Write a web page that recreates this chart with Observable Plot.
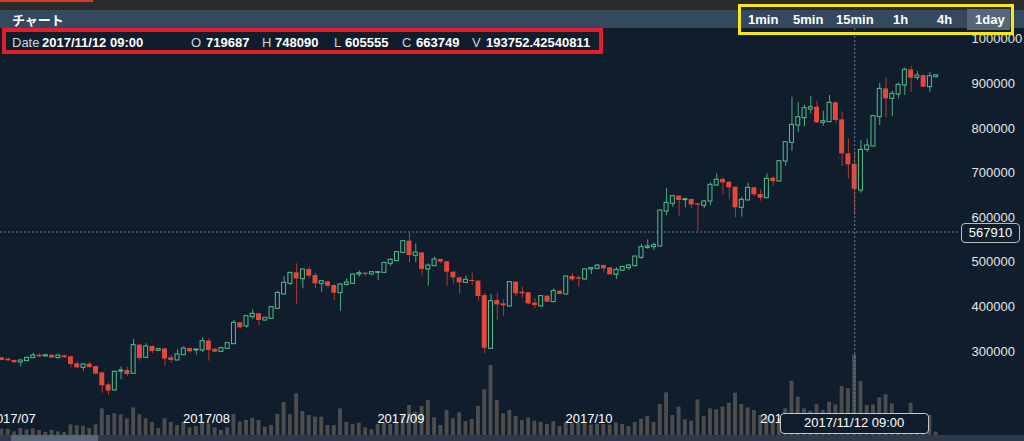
<!DOCTYPE html>
<html><head><meta charset="utf-8">
<script src="https://cdn.jsdelivr.net/npm/d3@7"></script>
<script src="https://cdn.jsdelivr.net/npm/@observablehq/plot@0.6"></script>
<style>
body{margin:0;width:1024px;height:441px;overflow:hidden;position:relative;background:#0f1d2c;font-family:"Liberation Sans",Arial,sans-serif;}
.abs{position:absolute;}
.lbl{position:absolute;top:28px;line-height:29px;font-size:13px;color:#d4d4d4;white-space:nowrap;}
.val{position:absolute;top:28px;line-height:29px;font-size:13px;font-weight:bold;color:#fff;white-space:nowrap;}
.btn{position:absolute;top:10px;line-height:20px;font-size:13px;font-weight:bold;color:#fff;white-space:nowrap;}
</style></head><body>
<div class="abs" style="left:0;top:0;width:1024px;height:10px;background:#2a2a2a"></div>
<div class="abs" style="left:0;top:0;width:93px;height:2px;background:#d93a2c"></div>
<div class="abs" style="left:0;top:10px;width:1024px;height:18px;background:#34495e"></div>
<div class="abs" id="title" style="left:12px;top:10px;line-height:19px;font-size:13px;font-weight:bold;color:#fff;font-family:'Noto Sans CJK JP',sans-serif"></div>
<div class="abs" style="left:0;top:435px;width:1024px;height:6px;background:#2c3b4c"></div>
<div class="abs" style="left:11px;top:435px;width:87px;height:6px;background:#56677a"></div>
<div class="abs" id="vol" style="left:0;top:28px"></div>
<div class="abs" id="main" style="left:0;top:28px"></div>
<div id="info"></div>
<div class="abs" style="left:2px;top:28px;width:601px;height:26px;border:4px solid #e31d2b;box-sizing:border-box"></div>
<div class="abs" id="active" style="top:9px;width:43px;height:21px;background:#566679"></div>
<div id="buttons"></div>
<div class="abs" style="left:738px;top:4px;width:276px;height:31px;border:3.5px solid #f9e51b;box-sizing:border-box"></div>
<div class="abs" id="datebox" style="top:413px;width:149px;height:21px;border:1.5px solid #c9c9c9;border-radius:4px;background:#0f1d2c;box-sizing:border-box;color:#fff;font-size:13px;line-height:18px;text-align:center"></div>
<div class="abs" id="pricebox" style="left:961px;width:59px;height:20px;border:1.5px solid #bdbdbd;border-radius:4px;background:#0f1d2c;box-sizing:border-box;color:#fff;font-size:13px;line-height:17px;text-align:center"></div>
<script>
// ---- data ----
const titleText = "チャート";
const intervals = ["1min","5min","15min","1h","4h","1day"];
const activeInterval = "1day";
const monthLabels = ["2017/07","2017/08","2017/09","2017/10","2017/11"];
const yTicks = [300000,400000,500000,600000,700000,800000,900000,1000000];
const firstDay = "2017-06-29", lastDay = "2017-11-25";
const crossDay = "2017-11-12";
const crossPrice = 567910;

const open = [
 285900,282900,
 279900,275400,278400,285100,291800,288800,291800,285100,290300,288000,272400,263400,271600,266400,252200,225300,212600,255100,257400,250000,314200,285800,311200,301500,306000,285900,279900,291800,306700,302300,302300,
 323200,305200,299300,306000,316400,364300,356100,377000,384500,369500,373300,395700,427800,451700,476400,462200,483900,470400,451700,456200,448000,430800,449400,451700,472600,475600,472600,476400,476400,496500,502500,
 521200,547400,514500,521200,483900,491300,506300,501000,477900,465200,453900,459200,457700,425600,306000,414300,406800,400900,455500,433000,431500,408400,400900,424100,410600,435300,427800,468100,465200,461400,
 483900,485300,492800,487600,471900,480900,486800,491300,510000,532400,534000,535400,613900,631100,648300,639300,640800,631100,626600,636300,672100,685600,679600,668400,622100,638600,667000,652000,643800,688600,681100,
 726000,767800,806700,823100,842500,847800,812700,814200,857500,819400,743100,719687,661000,752100,759600,825300,888900,866500,876200,896300,931500,913500,918700,892600,915100];
const high = [
 287400,285900,
 280600,280600,286600,296300,294800,292500,292500,291800,291000,288800,276900,271600,275400,267100,253700,229800,256600,264900,264900,326900,315700,317200,312700,306000,306700,291000,303700,310500,307500,305200,330700,
 328400,306000,308200,319400,369500,365000,380000,393400,385200,376200,400900,434500,468100,477100,496500,484600,489100,475600,459200,457700,449400,451700,462900,474100,480900,476400,478600,478600,499600,507800,524200,
 548900,566000,541400,522000,496500,511500,507000,502500,478600,466600,468900,475600,458400,430700,427800,430800,415800,456200,456200,444200,432200,418100,424800,424800,440500,436000,468900,475600,469600,484600,
 487600,494300,493500,488300,487600,490600,495000,513700,539900,550400,542900,616900,664700,649000,649800,642300,641600,631800,638600,678100,698300,689300,680400,669200,646000,677400,667700,662400,698300,691600,727400,
 770000,870200,857500,851500,871700,861200,838800,874000,859700,836600,776800,748090,773100,776800,828300,901600,913500,883600,901600,936000,939000,927700,919500,926200,920300];
const low = [
 279100,277600,
 273900,265600,277600,284400,285900,288000,284400,284400,285100,263400,261900,255900,261900,247700,206600,202100,211100,236500,244000,249200,278400,285100,294800,300000,267100,273900,279100,291000,296300,291800,297800,
 278400,297000,298500,305200,315700,350000,352300,371800,357600,368000,372500,394900,427000,448000,404600,440500,462900,440500,433000,440500,414300,389700,446500,450200,466600,468100,471900,459200,475600,490600,501800,
 520500,498800,498800,468900,446500,490600,496500,445700,451700,427800,453200,448000,412800,294800,305200,369500,379200,400100,423300,419600,404600,395700,400100,409900,409900,427000,427000,456900,444200,460700,
 472600,484600,475600,471100,461400,480200,481600,490600,506300,528700,526400,534700,604900,623600,603400,622100,619900,569000,619900,626600,671400,649700,640000,599700,601200,637800,647500,637100,643100,670600,680400,
 715500,749100,790200,804400,832800,811200,805200,813400,810400,714800,687100,605555,655000,746900,758900,806700,823800,826800,866500,873900,881400,907600,891800,881400,912800];
const close = [
 279900,279100,
 274600,279900,285900,291000,288000,291800,285100,291000,285900,270900,263400,270900,264100,249200,223000,211100,254400,257400,248500,314200,284400,311200,300000,305200,282900,279900,293300,306700,299300,304500,323200,
 302300,298500,307500,318700,364300,353100,379200,384500,369500,375500,399400,431500,454000,476400,462900,483900,468900,451700,457700,446500,430800,450200,454700,472600,475600,472600,477900,477900,498800,505500,522700,
 547400,515200,522000,483900,492800,506300,500300,477900,465200,453900,460700,456900,423300,307000,412900,404600,402400,455500,429300,429300,406800,403100,424100,410600,435300,427800,468100,460700,462200,483900,
 486900,492800,485300,471900,483100,489800,492800,513000,533900,535400,538400,616100,633300,648300,638600,641600,628800,628100,636300,673700,684900,678100,667000,622100,640000,667000,651200,643800,687100,681100,726700,
 769300,808100,825300,845500,847800,812700,816400,857500,817900,743100,718500,663749,752100,761800,827600,888900,866500,877700,897800,931500,912800,918700,892600,917200,919500];
const volume = [
 15200,15200,
 8800,16800,13600,16000,12000,7200,12000,8800,7200,25600,23200,22400,16800,25600,64000,48000,52000,49600,40000,66400,49600,40000,31200,16800,40000,31200,24000,31200,18400,21600,31200,
 28000,18400,12000,18400,50400,32000,36000,41600,36000,20000,24000,50400,79200,49600,100000,57600,48000,44000,44000,24000,24000,64000,31200,26400,29600,18400,13600,26400,29600,26400,29600,
 48000,72000,56000,69600,84000,42400,24000,60000,40000,54400,33600,38400,69600,109700,168100,84000,52000,60000,45600,36000,42400,34400,32000,26400,32800,21600,32000,28000,29600,28000,
 24800,26400,26400,24800,30400,26400,21600,31200,39200,45600,31200,74400,102400,48000,68000,37600,34400,85600,45600,64000,61600,68000,77600,101600,74400,66400,60000,48000,44000,36000,40000,
 64000,130400,92000,64000,58400,74400,60000,80000,73600,117600,112000,193752.42540811,129600,72000,73600,90400,97600,76000,45000,50000,77600,40000,45000,48000,8000];

// ---- styles ----
const GREEN = "#55c08f", GREEN_WICK = "#4aab7d", RED = "#e5473a", RED_WICK = "#b03a30";
const VOLC = "#4d4d4d", CROSS = "#6f7b88", BG = "#0f1d2c", AXIS = "#e6e6e6";
const HOUR = 3600e3;
const redHalf = 9.5 * HOUR, greenHalf = 7.6 * HOUR, volHalf = 7.4 * HOUR;
const FONT = "'Liberation Sans', Arial, sans-serif";

const dates = d3.utcDay.range(new Date(firstDay + "T00:00:00Z"), d3.utcDay.offset(new Date(lastDay + "T00:00:00Z"), 1));
const candles = dates.map((date, i) => ({date, open: open[i], high: high[i], low: low[i], close: close[i], volume: volume[i]}));
const ups = candles.filter(d => d.close >= d.open);
const downs = candles.filter(d => d.close < d.open);
const crossDate = new Date(crossDay + "T00:00:00Z");
const jst = d => new Date(+d + 9 * HOUR);
const monthTicks = monthLabels.map(s => new Date(s.replace("/", "-") + "-01T00:00:00+09:00"));
const fmtMonth = d => d3.utcFormat("%Y/%m")(jst(d));

const xOpts = {type: "utc", domain: [new Date("2017-06-28T18:24:00Z"), new Date("2017-11-28T21:07:00Z")], range: [0, 960]};
const W = 1024, H = 407;

const volPlot = Plot.plot({
  width: W, height: H, marginLeft: 0, marginRight: 64, marginTop: 0, marginBottom: 22,
  x: xOpts,
  y: {domain: [0, d3.max(volume)], range: [407, 326.3], axis: null},
  style: {background: "transparent", fontFamily: FONT, fontSize: "13px", color: AXIS},
  marks: [
    Plot.rect(candles, {x1: d => new Date(+d.date - volHalf), x2: d => new Date(+d.date + volHalf), y1: 0, y2: "volume", fill: VOLC}),
    Plot.axisX(monthTicks, {anchor: "bottom", tickSize: 0, tickPadding: 0, tickFormat: fmtMonth, fill: "#ffffff", fontSize: 13})
  ]
});
document.getElementById("vol").append(volPlot);

const mainPlot = Plot.plot({
  width: W, height: H, marginLeft: 0, marginRight: 64, marginTop: 0, marginBottom: 0,
  x: {...xOpts, axis: null},
  y: {domain: [200000, 1000000], range: [367.6, 10.8]},
  style: {background: "transparent", fontFamily: FONT, fontSize: "13px", color: AXIS},
  marks: [
    Plot.ruleY([crossPrice], {stroke: CROSS, strokeDasharray: "2,2", strokeWidth: 1}),
    Plot.ruleX(candles, {x: "date", y1: "low", y2: "high", stroke: d => d.close >= d.open ? GREEN_WICK : RED_WICK, strokeWidth: 1}),
    Plot.rect(downs, {x1: d => new Date(+d.date - redHalf), x2: d => new Date(+d.date + redHalf), y1: "open", y2: "close", fill: RED}),
    Plot.rect(ups, {x1: d => new Date(+d.date - greenHalf), x2: d => new Date(+d.date + greenHalf), y1: "open", y2: "close", fill: BG, stroke: GREEN, strokeWidth: 1}),
    Plot.ruleX([crossDate], {stroke: CROSS, strokeDasharray: "2,2", strokeWidth: 1}),
    Plot.axisY(yTicks, {anchor: "right", tickSize: 0, tickPadding: 11, tickFormat: d3.format("d"), fill: AXIS, fontSize: 13})
  ]
});
document.getElementById("main").append(mainPlot);

// ---- header and overlays ----
document.getElementById("title").textContent = titleText;
const btnLeft = [748, 793, 836, 893, 937, 975];
const bdiv = document.getElementById("buttons");
intervals.forEach((t, i) => {
  const s = document.createElement("div");
  s.className = "btn"; s.style.left = btnLeft[i] + "px"; s.textContent = t;
  bdiv.append(s);
  if (t === activeInterval) document.getElementById("active").style.left = (btnLeft[i] - 8) + "px";
});

const c = candles.find(d => +d.date === +crossDate);
const dateText = d3.utcFormat("%Y/%m/%d %H:%M")(jst(c.date));
const infoItems = [["lbl", 12, "Date"], ["val", 42, dateText],
  ["lbl", 191, "O"], ["val", 206, String(c.open)],
  ["lbl", 262, "H"], ["val", 275, String(c.high)],
  ["lbl", 334, "L"], ["val", 345, String(c.low)],
  ["lbl", 402, "C"], ["val", 416, String(c.close)],
  ["lbl", 472, "V"], ["val", 486, String(c.volume)]];
const info = document.getElementById("info");
infoItems.forEach(([cls, left, t]) => {
  const s = document.createElement("div");
  s.className = cls; s.style.left = left + "px"; s.textContent = t;
  info.append(s);
});

const xs = mainPlot.scale("x").apply(crossDate);
const db = document.getElementById("datebox");
db.style.left = (xs - 74.5) + "px"; db.textContent = dateText;
const ys = mainPlot.scale("y").apply(crossPrice);
const pb = document.getElementById("pricebox");
pb.style.top = (28 + ys - 9) + "px"; pb.textContent = String(crossPrice);
</script>
</body></html>
